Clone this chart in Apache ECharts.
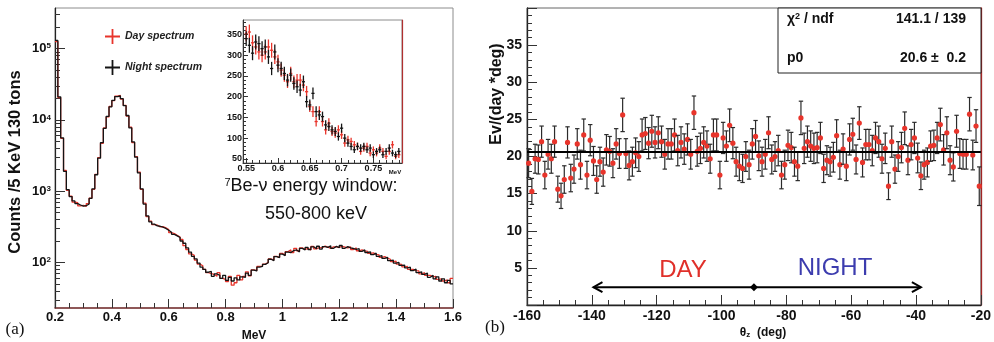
<!DOCTYPE html>
<html>
<head>
<meta charset="utf-8">
<script src="https://cdn.jsdelivr.net/npm/echarts@6/dist/echarts.min.js"></script>
<style>
html, body { margin: 0; padding: 0; background: #fff; }
#chart { width: 994px; height: 342px; }
</style>
</head>
<body>
<div id="chart"></div>
<script>
// ---------- (a) energy spectrum, 10 keV bins from 0.2 MeV (counts per 5 keV) ----------
const energyStart = 0.2;
const energyBinWidth = 0.01;
const nightCounts = [
  130000, 21000, 5600, 1900, 1050, 840, 730, 670, 640, 615,
  625, 660, 790, 1080, 1700, 2900, 4800, 7600, 11200, 15200,
  18800, 21200, 21600, 19800, 15800, 11500, 7700, 4900, 3000, 1800,
  1080, 660, 450, 372, 345, 325, 322, 312, 300, 283,
  266, 248, 236, 224, 200, 186, 160, 140, 122, 112,
  98, 86, 80, 73, 75, 64, 69, 66, 60, 66,
  56, 62, 55, 61, 57, 63, 62, 71, 66, 78,
  76, 86, 88, 94, 99, 111, 106, 121, 117, 131,
  125, 140, 138, 147, 150, 141, 158, 150, 163, 151,
  166, 156, 169, 154, 167, 163, 171, 158, 168, 161,
  173, 158, 167, 160, 157, 153, 156, 143, 150, 138,
  141, 129, 135, 122, 125, 114, 118, 106, 108, 98,
  100, 91, 92, 84, 86, 77, 81, 72, 74, 68,
  71, 62, 66, 59, 63, 55, 59, 52, 56, 50
];
const dayCounts = [
  125000, 20500, 5500, 1950, 1030, 850, 700, 690, 620, 630,
  610, 670, 800, 1060, 1720, 2950, 4700, 7700, 11000, 15400,
  18600, 21500, 22000, 19600, 16000, 11300, 7900, 4800, 3050, 1850,
  1060, 680, 440, 380, 340, 335, 315, 318, 306, 290,
  262, 254, 240, 228, 210, 172, 152, 132, 126, 108,
  95, 90, 80, 72, 70, 68, 64, 72, 60, 58,
  54, 64, 48, 52, 66, 57, 64, 74, 65, 79,
  77, 88, 89, 95, 100, 112, 108, 122, 118, 134,
  126, 142, 150, 138, 158, 145, 160, 152, 158, 150,
  168, 155, 162, 160, 170, 164, 158, 166, 165, 163,
  168, 164, 160, 166, 152, 160, 146, 150, 145, 143,
  134, 136, 130, 128, 118, 121, 115, 111, 103, 104,
  95, 94, 87, 88, 80, 80, 77, 76, 69, 72,
  66, 66, 63, 64, 58, 59, 55, 57, 52, 60
];
const logTicks = [100, 1000, 10000, 100000];
const logMinorTicks = [30, 40, 50, 60, 70, 80, 90,
  200, 300, 400, 500, 600, 700, 800, 900,
  2000, 3000, 4000, 5000, 6000, 7000, 8000, 9000,
  20000, 30000, 40000, 50000, 60000, 70000, 80000, 90000,
  200000, 300000];

// ---------- inset: 7Be window, 5 keV bins centred from 0.55 MeV ----------
const windowStart = 0.55;
const windowBinWidth = 0.005;
const windowNight = [340, 324, 305, 332, 328, 316, 320, 296, 268, 308,
  276, 268, 256, 240, 252, 232, 224, 216, 236, 188,
  180, 208, 164, 156, 152, 132, 128, 120, 116, 104,
  124, 100, 88, 80, 72, 80, 76, 80, 72, 76,
  60, 68, 72, 60, 68, 76, 64, 60, 68];
const windowNightErr = [18, 18, 17, 18, 18, 18, 18, 17, 16, 18,
  17, 16, 16, 15, 16, 15, 15, 15, 15, 14,
  13, 14, 13, 12, 12, 11, 11, 11, 11, 10,
  11, 10, 9, 9, 8, 9, 9, 9, 8, 9,
  8, 8, 8, 8, 8, 9, 8, 8, 8];
const windowDay = [352, 356, 330, 320, 308, 300, 308, 320, 312, 296,
  284, 264, 252, 236, 256, 236, 240, 240, 228, 212,
  176, 164, 140, 164, 140, 120, 136, 116, 112, 120,
  108, 88, 96, 92, 84, 80, 68, 76, 80, 64,
  72, 64, 76, 68, 56, 68, 84, 56, 60];
const windowDayErr = [18, 18, 18, 18, 18, 17, 18, 18, 18, 17,
  17, 16, 16, 15, 16, 15, 15, 15, 15, 14,
  13, 13, 12, 13, 12, 11, 12, 11, 11, 11,
  10, 9, 10, 9, 9, 9, 8, 9, 9, 8,
  8, 8, 9, 8, 7, 8, 9, 7, 8];
const windowTicks = [0.55, 0.6, 0.65, 0.7, 0.75];
const windowMinorTicks = [0.56, 0.57, 0.58, 0.59, 0.61, 0.62, 0.63, 0.64, 0.66, 0.67, 0.68, 0.69,
  0.71, 0.72, 0.73, 0.74, 0.76, 0.77, 0.78, 0.79];
const windowCountTicks = [50, 100, 150, 200, 250, 300, 350];
const windowCountMinorTicks = [60, 70, 80, 90, 110, 120, 130, 140, 160, 170, 180, 190,
  210, 220, 230, 240, 260, 270, 280, 290, 310, 320, 330, 340, 360, 370, 380];

// ---------- (b) zenith-angle distribution, 1 deg bins from -160 deg ----------
const zenithStart = -160;
const zenithBinWidth = 1;
const zenithRate = [
  19.1, 15.3, 19.7, 19.6, 22.0, 17.5, 20.3, 19.7, 22.0, 15.6,
  14.7, 16.9, 21.9, 17.1, 18.3, 21.7, 18.9, 22.9, 17.5, 22.2,
  19.4, 16.9, 19.3, 17.9, 20.9, 20.7, 19.1, 21.7, 20.4, 25.6,
  20.4, 18.8, 19.3, 20.5, 20.0, 22.9, 23.1, 21.8, 23.4, 21.9,
  23.2, 22.0, 20.3, 21.7, 21.7, 22.9, 20.8, 21.9, 21.0, 22.3,
  20.3, 25.9, 20.7, 21.1, 21.9, 21.4, 19.7, 22.9, 22.9, 17.5,
  22.5, 21.4, 24.2, 21.8, 19.3, 18.7, 18.4, 20.0, 18.9, 21.7,
  22.7, 20.1, 19.3, 20.3, 23.2, 19.6, 20.0, 20.8, 17.5, 18.9,
  21.5, 21.2, 19.3, 18.7, 25.2, 21.1, 22.0, 21.4, 21.1, 21.2,
  22.5, 18.4, 19.5, 19.3, 19.9, 22.8, 18.9, 21.0, 18.7, 22.3,
  23.0, 19.6, 24.5, 19.2, 21.6, 21.6, 20.8, 22.5, 22.0, 19.7,
  21.1, 16.0, 22.0, 18.3, 20.0, 21.2, 23.8, 19.5, 21.6, 22.5,
  19.8, 17.4, 18.9, 19.2, 21.4, 21.5, 22.5, 24.3, 20.9, 23.2,
  19.5, 18.6, 23.4, 20.4, 20.3, 20.3, 25.7, 20.2, 24.1, 16.0
];
const zenithErr = [
  1.95, 1.75, 1.95, 1.95, 2.1, 1.85, 2.0, 1.95, 2.1, 1.75,
  1.7, 1.85, 2.1, 1.85, 1.9, 2.05, 1.95, 2.15, 1.85, 2.1,
  1.95, 1.85, 1.95, 1.9, 2.05, 2.0, 1.95, 2.05, 2.0, 2.25,
  2.0, 1.95, 1.95, 2.0, 2.0, 2.15, 2.15, 2.1, 2.15, 2.1,
  2.15, 2.1, 2.0, 2.05, 2.05, 2.15, 2.05, 2.1, 2.05, 2.1,
  2.0, 2.25, 2.0, 2.05, 2.1, 2.05, 1.95, 2.15, 2.15, 1.85,
  2.1, 2.05, 2.2, 2.1, 1.95, 1.95, 1.9, 2.0, 1.95, 2.05,
  2.15, 2.0, 1.95, 2.0, 2.15, 1.95, 2.0, 2.05, 1.85, 1.95,
  2.05, 2.05, 1.95, 1.95, 2.25, 2.05, 2.1, 2.05, 2.05, 2.05,
  2.1, 1.9, 1.95, 1.95, 2.0, 2.15, 1.95, 2.05, 1.95, 2.1,
  2.15, 1.95, 2.2, 1.95, 2.05, 2.05, 2.05, 2.1, 2.1, 1.95,
  2.05, 1.8, 2.1, 1.9, 2.0, 2.05, 2.2, 1.95, 2.05, 2.1,
  2.0, 1.85, 1.95, 1.95, 2.05, 2.05, 2.1, 2.2, 2.05, 2.15,
  1.95, 1.9, 2.15, 2.0, 2.0, 2.0, 2.25, 2.0, 2.2, 2.6
];
// constant fit (p0) and its statistics
const fitP0 = 20.6;
const fitP0Err = 0.2;
const fitChi2 = 141.1;
const fitNdf = 139;
// day / night arrow: angular span, height and horizon marker
const arrowSpan = [-139.5, -38.5];
const arrowLevel = 2.4;
const horizonAngle = -90;

// ---------- helpers ----------
const ff = "'Liberation Sans', Arial, Helvetica, sans-serif";
const RED = '#e8342b';
const BLACK = '#141414';

function stepPoints(counts) {
  const pts = counts.map((c, i) => [+(energyStart + i * energyBinWidth).toFixed(4), c]);
  pts.push([+(energyStart + counts.length * energyBinWidth).toFixed(4), counts[counts.length - 1]]);
  return pts;
}
function windowPoints(vals, errs) {
  return vals.map((v, i) => [+(windowStart + i * windowBinWidth).toFixed(4), v, errs[i]]);
}
function crossRenderer(color) {
  const half = windowBinWidth / 2;
  return function (params, api) {
    const x = api.value(0), y = api.value(1), e = api.value(2);
    const l = api.coord([x - half, y]), r = api.coord([x + half, y]);
    const t = api.coord([x, y + e]), b = api.coord([x, y - e]);
    return {
      type: 'group',
      children: [
        { type: 'line', shape: { x1: l[0], y1: l[1], x2: r[0], y2: r[1] }, style: { stroke: color, lineWidth: 1.3 } },
        { type: 'line', shape: { x1: t[0], y1: t[1], x2: b[0], y2: b[1] }, style: { stroke: color, lineWidth: 1.3 } }
      ]
    };
  };
}

const crossIcon = 'path://M4.4,0H5.6V4.4H10V5.6H5.6V10H4.4V5.6H0V4.4H4.4Z';
const labelFont = { fontFamily: ff, fontWeight: 'bold', color: '#111' };

const chart = echarts.init(document.getElementById('chart'), null, { renderer: 'canvas' });

const option = {
  animation: false,
  backgroundColor: '#ffffff',
  legend: {
    data: [{ name: 'Day spectrum', icon: crossIcon }, { name: 'Night spectrum', icon: crossIcon }],
    orient: 'vertical',
    left: 100,
    top: 24,
    itemWidth: 15,
    itemHeight: 15,
    itemGap: 16,
    selectedMode: false,
    textStyle: { fontFamily: ff, fontStyle: 'italic', fontWeight: 'bold', fontSize: 10.5, color: '#222' }
  },
  grid: [
    { left: 55, top: 8, width: 398, height: 300, show: true, borderColor: '#8c8c8c', borderWidth: 1 },
    { left: 243, top: 20, width: 159, height: 143, show: true, borderColor: '#8c8c8c', borderWidth: 1 },
    { left: 527, top: 8, width: 454, height: 297, show: true, borderColor: '#666', borderWidth: 1 }
  ],
  xAxis: [
    {
      gridIndex: 0, type: 'value', position: 'bottom', min: 0.2, max: 1.6, interval: 0.2,
      axisLine: { lineStyle: { color: '#7e3535', width: 1.6 } },
      axisTick: { inside: true, length: 9, lineStyle: { color: '#333' } },
      minorTick: { show: true, splitNumber: 4, length: 5, lineStyle: { color: '#333' } },
      axisLabel: Object.assign({ margin: 3, fontSize: 13 }, labelFont),
      splitLine: { show: false }
    },
    {
      gridIndex: 1, type: 'value', position: 'bottom', min: 0.545, max: 0.795,
      axisLine: { lineStyle: { color: '#333' } },
      axisTick: { inside: true, length: 5, customValues: windowTicks, lineStyle: { color: '#333' } },
      axisLabel: Object.assign({ customValues: windowTicks, margin: 1, fontSize: 9 }, labelFont),
      splitLine: { show: false }
    },
    {
      gridIndex: 1, type: 'value', position: 'bottom', min: 0.545, max: 0.795,
      axisLine: { show: false },
      axisTick: { inside: true, length: 3, customValues: windowMinorTicks, lineStyle: { color: '#333' } },
      axisLabel: { show: false },
      splitLine: { show: false }
    },
    {
      gridIndex: 2, type: 'value', position: 'bottom', min: -160, max: -20, interval: 20,
      axisLine: { lineStyle: { color: '#222', width: 1.3 } },
      axisTick: { inside: true, length: 10, lineStyle: { color: '#333' } },
      minorTick: { show: true, splitNumber: 4, length: 5, lineStyle: { color: '#333' } },
      axisLabel: Object.assign({ margin: 4, fontSize: 14 }, labelFont),
      splitLine: { show: false }
    }
  ],
  yAxis: [
    {
      gridIndex: 0, type: 'log', logBase: 10, position: 'left', min: 23, max: 370000,
      axisLine: { lineStyle: { color: '#222', width: 1.2 } },
      axisTick: { inside: true, length: 10, customValues: logTicks, lineStyle: { color: '#333' } },
      axisLabel: {
        customValues: logTicks, margin: 4,
        formatter: v => '{b|10}{s|' + Math.round(Math.log10(v)) + '}',
        rich: {
          b: { fontFamily: ff, fontWeight: 'bold', fontSize: 13, color: '#111' },
          s: { fontFamily: ff, fontWeight: 'bold', fontSize: 8, color: '#111', verticalAlign: 'top' }
        }
      },
      splitLine: { show: false }
    },
    {
      gridIndex: 0, type: 'log', logBase: 10, position: 'left', min: 23, max: 370000,
      axisLine: { show: false },
      axisTick: { inside: true, length: 5, customValues: logMinorTicks, lineStyle: { color: '#333' } },
      axisLabel: { show: false },
      splitLine: { show: false }
    },
    {
      gridIndex: 1, type: 'value', position: 'left', min: 40, max: 385,
      axisLine: { lineStyle: { color: '#333' } },
      axisTick: { inside: true, length: 5, customValues: windowCountTicks, lineStyle: { color: '#333' } },
      axisLabel: Object.assign({ customValues: windowCountTicks, margin: 1, fontSize: 9 }, labelFont),
      splitLine: { show: false }
    },
    {
      gridIndex: 1, type: 'value', position: 'left', min: 40, max: 385,
      axisLine: { show: false },
      axisTick: { inside: true, length: 3, customValues: windowCountMinorTicks, lineStyle: { color: '#333' } },
      axisLabel: { show: false },
      splitLine: { show: false }
    },
    {
      gridIndex: 1, type: 'value', position: 'right', min: 40, max: 385,
      axisLine: { lineStyle: { color: '#b03030', width: 1.2 } },
      axisTick: { show: false }, axisLabel: { show: false }, splitLine: { show: false }
    },
    {
      gridIndex: 2, type: 'value', position: 'left', min: 0, max: 40, interval: 5,
      axisLine: { lineStyle: { color: '#222', width: 1.3 } },
      axisTick: { inside: true, length: 10, lineStyle: { color: '#333' } },
      minorTick: { show: true, splitNumber: 5, length: 5, lineStyle: { color: '#333' } },
      axisLabel: Object.assign({ margin: 5, fontSize: 14, formatter: v => (v === 0 || v === 40) ? '' : String(v) }, labelFont),
      splitLine: { show: false }
    },
    {
      gridIndex: 2, type: 'value', position: 'right', min: 0, max: 40,
      axisLine: { lineStyle: { color: '#a02525', width: 1.3 } },
      axisTick: { show: false }, axisLabel: { show: false }, splitLine: { show: false }
    }
  ],
  series: [
    {
      name: 'Day spectrum', type: 'line', xAxisIndex: 0, yAxisIndex: 0, step: 'end',
      data: stepPoints(dayCounts), symbol: 'none', showSymbol: false,
      lineStyle: { color: RED, width: 1.3 }, itemStyle: { color: RED }, z: 2
    },
    {
      name: 'Night spectrum', type: 'line', xAxisIndex: 0, yAxisIndex: 0, step: 'end',
      data: stepPoints(nightCounts), symbol: 'none', showSymbol: false,
      lineStyle: { color: BLACK, width: 1.3 }, itemStyle: { color: BLACK }, z: 3
    },
    {
      name: 'Day window', type: 'custom', xAxisIndex: 1, yAxisIndex: 2,
      data: windowPoints(windowDay, windowDayErr), encode: { x: 0, y: 1 },
      renderItem: crossRenderer(RED), z: 2
    },
    {
      name: 'Night window', type: 'custom', xAxisIndex: 1, yAxisIndex: 2,
      data: windowPoints(windowNight, windowNightErr), encode: { x: 0, y: 1 },
      renderItem: crossRenderer(BLACK), z: 3
    },
    {
      name: 'Zenith rate', type: 'custom', xAxisIndex: 3, yAxisIndex: 5,
      data: zenithRate.map((v, i) => [zenithStart + (i + 0.5) * zenithBinWidth, v, zenithErr[i]]),
      encode: { x: 0, y: 1 },
      renderItem: function (params, api) {
        const x = api.value(0), y = api.value(1), e = api.value(2);
        const c = api.coord([x, y]), t = api.coord([x, y + e]), b = api.coord([x, y - e]);
        const cap = 2.2;
        const st = { stroke: '#2b2b2b', lineWidth: 1.2 };
        return {
          type: 'group',
          children: [
            { type: 'line', shape: { x1: t[0], y1: t[1], x2: b[0], y2: b[1] }, style: st },
            { type: 'line', shape: { x1: t[0] - cap, y1: t[1], x2: t[0] + cap, y2: t[1] }, style: st },
            { type: 'line', shape: { x1: b[0] - cap, y1: b[1], x2: b[0] + cap, y2: b[1] }, style: st },
            { type: 'circle', shape: { cx: c[0], cy: c[1], r: 2.6 }, style: { fill: RED } }
          ]
        };
      },
      z: 3
    },
    {
      name: 'Fit p0', type: 'line', xAxisIndex: 3, yAxisIndex: 5,
      data: [[zenithStart, fitP0], [zenithStart + zenithRate.length * zenithBinWidth, fitP0]],
      symbol: 'none', lineStyle: { color: '#000', width: 2 }, z: 4
    },
    {
      name: 'Day night arrow', type: 'custom', xAxisIndex: 3, yAxisIndex: 5,
      data: [[arrowSpan[0], arrowSpan[1], arrowLevel, horizonAngle]],
      renderItem: function (params, api) {
        const a = api.coord([api.value(0), api.value(2)]);
        const b = api.coord([api.value(1), api.value(2)]);
        const m = api.coord([api.value(3), api.value(2)]);
        const st = { stroke: '#000', lineWidth: 2, fill: null };
        return {
          type: 'group',
          children: [
            { type: 'line', shape: { x1: a[0], y1: a[1], x2: b[0], y2: b[1] }, style: st },
            { type: 'polyline', shape: { points: [[a[0] + 9, a[1] - 5], [a[0], a[1]], [a[0] + 9, a[1] + 5]] }, style: st },
            { type: 'polyline', shape: { points: [[b[0] - 9, b[1] - 5], [b[0], b[1]], [b[0] - 9, b[1] + 5]] }, style: st },
            { type: 'polygon', shape: { points: [[m[0] - 4, m[1]], [m[0], m[1] - 4], [m[0] + 4, m[1]], [m[0], m[1] + 4]] }, style: { fill: '#000' } }
          ]
        };
      },
      z: 5
    }
  ],
  graphic: [
    // axis titles and panel tags
    { type: 'text', x: 15, y: 162, rotation: Math.PI / 2,
      style: { text: 'Counts /5 KeV 130 tons', font: "bold 16.5px " + ff, fill: '#111', align: 'center', verticalAlign: 'middle' } },
    { type: 'text', x: 254, y: 336,
      style: { text: 'MeV', font: "bold 12px " + ff, fill: '#111', align: 'center', verticalAlign: 'middle' } },
    { type: 'text', x: 15, y: 330,
      style: { text: '(a)', font: "17px 'Liberation Serif', 'Times New Roman', serif", fill: '#111', align: 'center', verticalAlign: 'middle' } },
    { type: 'text', x: 497, y: 94, rotation: Math.PI / 2,
      style: { text: 'Ev/(day *deg)', font: "bold 16px " + ff, fill: '#111', align: 'center', verticalAlign: 'middle' } },
    { type: 'text', x: 763, y: 333,
      style: {
        text: '{a|θ}{s|z}{a|  (deg)}', align: 'center', verticalAlign: 'middle',
        rich: {
          a: { font: "bold 12px " + ff, fill: '#111' },
          s: { font: "bold 8px " + ff, fill: '#111', verticalAlign: 'bottom' }
        }
      } },
    { type: 'text', x: 495, y: 328,
      style: { text: '(b)', font: "17px 'Liberation Serif', 'Times New Roman', serif", fill: '#111', align: 'center', verticalAlign: 'middle' } },
    // inset annotation
    { type: 'text', x: 395, y: 172,
      style: { text: 'MeV', font: "bold 6px " + ff, fill: '#111', align: 'center', verticalAlign: 'middle' } },
    { type: 'text', x: 311, y: 186,
      style: {
        text: '{s|7}{a|Be-ν energy window:}', align: 'center', verticalAlign: 'middle',
        rich: {
          a: { font: "18px " + ff, fill: '#111' },
          s: { font: "11px " + ff, fill: '#111', verticalAlign: 'top' }
        }
      } },
    { type: 'text', x: 316, y: 214,
      style: { text: '550-800 keV', font: "18px " + ff, fill: '#111', align: 'center', verticalAlign: 'middle' } },
    // day / night labels
    { type: 'text', x: 683, y: 270,
      style: { text: 'DAY', font: "24px " + ff, fill: '#e0302a', align: 'center', verticalAlign: 'middle' } },
    { type: 'text', x: 835, y: 268,
      style: { text: 'NIGHT', font: "24px " + ff, fill: '#3c3cae', align: 'center', verticalAlign: 'middle' } },
    // fit statistics box
    { type: 'rect', shape: { x: 778, y: 8, width: 203, height: 65 },
      style: { fill: '#fff', stroke: '#222', lineWidth: 1 }, z: 10 },
    { type: 'text', x: 787, y: 19, z: 11,
      style: {
        text: '{a|χ}{s|2}{a| / ndf}', verticalAlign: 'middle',
        rich: {
          a: { font: "bold 14px " + ff, fill: '#111' },
          s: { font: "bold 9px " + ff, fill: '#111', verticalAlign: 'top' }
        }
      } },
    { type: 'text', x: 966, y: 19, z: 11,
      style: { text: fitChi2.toFixed(1) + ' / ' + fitNdf, font: "bold 14px " + ff, fill: '#111', align: 'right', verticalAlign: 'middle' } },
    { type: 'text', x: 787, y: 58, z: 11,
      style: { text: 'p0', font: "bold 14px " + ff, fill: '#111', verticalAlign: 'middle' } },
    { type: 'text', x: 966, y: 58, z: 11,
      style: { text: fitP0.toFixed(1) + ' \u00b1  ' + fitP0Err.toFixed(1), font: "bold 14px " + ff, fill: '#111', align: 'right', verticalAlign: 'middle' } }
  ]
};

chart.setOption(option);
</script>
</body>
</html>
